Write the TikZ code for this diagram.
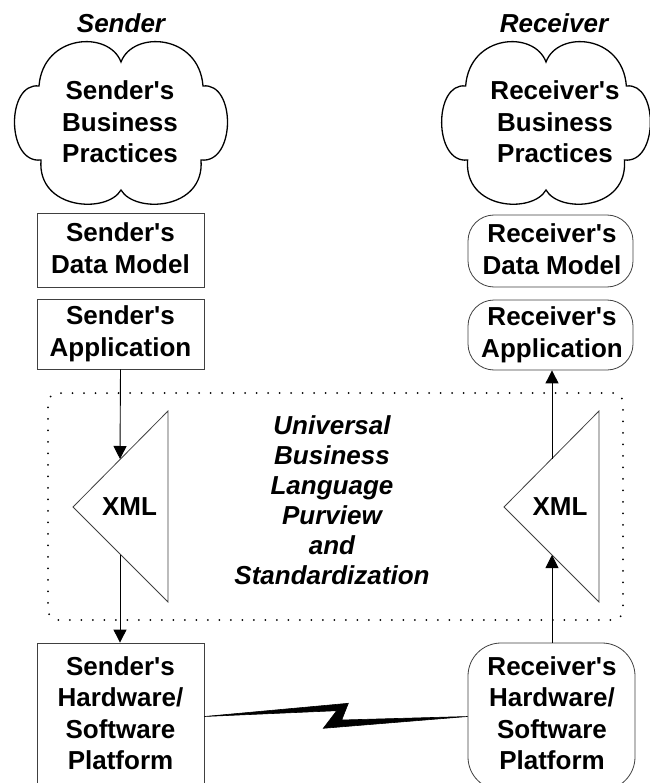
\documentclass[tikz,border=0pt]{standalone}
\usepackage{fontspec}
\setmainfont{Liberation Sans}
\usetikzlibrary{arrows.meta}
\newcommand{\apos}{\textquotesingle}
\begin{document}
\begin{tikzpicture}[x=1pt,y=-1pt,
  lbl/.style={font=\fontsize{26}{31.5}\selectfont\bfseries, align=center, inner sep=0pt},
  ttl/.style={font=\fontsize{26}{31.5}\selectfont\bfseries\itshape, inner sep=0pt},
  purv/.style={font=\fontsize{26}{30}\selectfont\bfseries\itshape, align=center, inner sep=0pt},
  box/.style={draw=black!75, line width=0.8pt, fill=white, inner sep=0pt},
  rbox/.style={box, rounded corners=#1},
  cloudline/.style={draw=black, line width=1.3pt, fill=white},
  tri/.style={draw=black!75, line width=0.8pt, fill=white},
  arr/.style={-{Triangle[length=13pt,width=13pt]}, line width=0.9pt},
  dotbox/.style={draw=black, line width=2pt, line cap=round, dash pattern=on 0pt off 11.5pt, rounded corners=10pt},
  bolt/.style={fill=black, draw=black, line width=0.6pt, line join=miter}]
\useasboundingbox (0,0) rectangle (649,783);

% business practice clouds
\def\cloudpath{(0,-60) .. controls (12,-92) and (78,-88) .. (82,-36)
  .. controls (115,-40) and (115,42) .. (80,38)
  .. controls (84,88) and (14,92) .. (0,68)
  .. controls (-14,92) and (-84,88) .. (-80,38)
  .. controls (-115,42) and (-115,-40) .. (-82,-36)
  .. controls (-78,-88) and (-12,-92) .. (0,-60) -- cycle}
\path[cloudline, shift={(121,122)}] \cloudpath;
\path[cloudline, shift={(546,122)}, xscale=0.98] \cloudpath;

% titles
\node[ttl, anchor=base] (stitle) at (121,33) {Sender};
\node[ttl, anchor=base] (rtitle) at (554,33) {Receiver};

% cloud texts
\node[lbl] (sbp) at (120,122) {Sender\apos s\\Business\\Practices};
\node[lbl] (rbp) at (555,122) {Receiver\apos s\\Business\\Practices};

% sender side boxes
\node[box, minimum width=167pt, minimum height=74pt] (sdm) at (120.5,250) {};
\node[lbl] (sdmt) at (120.5,248) {Sender\apos s\\Data Model};
\node[box, minimum width=167pt, minimum height=70pt] (sapp) at (120.5,334) {};
\node[lbl] (sappt) at (120.5,334) {Sender\apos s\\Application};

% receiver side boxes
\node[rbox=26pt, minimum width=165pt, minimum height=72pt] (rdm) at (550.5,251) {};
\node[lbl] (rdmt) at (552,249) {Receiver\apos s\\Data Model};
\node[rbox=26pt, minimum width=165pt, minimum height=70pt] (rapp) at (550.5,335) {};
\node[lbl] (rappt) at (552,335) {Receiver\apos s\\Application};

% purview region
\node[dotbox, minimum width=575pt, minimum height=227pt] (purview) at (335.5,506.5) {};
\node[purv] (purvt) at (332,500) {Universal\\Business\\Language\\Purview\\and\\Standardization};

% XML translators
\draw[tri] (168,411) -- (73,507) -- (168,602) -- cycle;
\node[lbl] (sxml) at (129.5,507) {XML};
\draw[tri] (599,411) -- (504,507) -- (599,602) -- cycle;
\node[lbl] (rxml) at (560,507) {XML};
\coordinate (sxin) at (120,459);
\coordinate (sxout) at (120,555);
\coordinate (rxin) at (552,555);
\coordinate (rxout) at (552,459);

% platforms
\node[box, minimum width=167pt, minimum height=147pt] (shw) at (120.5,716.5) {};
\node[lbl] (shwt) at (120.5,713) {Sender\apos s\\Hardware/\\Software\\Platform};
\node[rbox=33pt, minimum width=167pt, minimum height=147pt] (rhw) at (551.5,716.5) {};
\node[lbl] (rhwt) at (552,713) {Receiver\apos s\\Hardware/\\Software\\Platform};

% message flow
\draw[arr] (sapp.south) -- (sxin);
\draw[arr] (sxout) -- (sxout |- shw.north);
\draw[arr] (rhw.north -| rxin) -- (rxin);
\draw[arr] (rxout) -- (rxout |- rapp.south);

% communication link
\coordinate (b1) at (348.3,703.3);
\coordinate (b2) at (341.7,720);
\coordinate (b3) at (323.3,728.3);
\coordinate (b4) at (336.7,710.7);
\path[bolt] (shw.east) -- (b1) -- (b2) -- (rhw.west) -- (b3) -- (b4) -- cycle;
\end{tikzpicture}
\end{document}
